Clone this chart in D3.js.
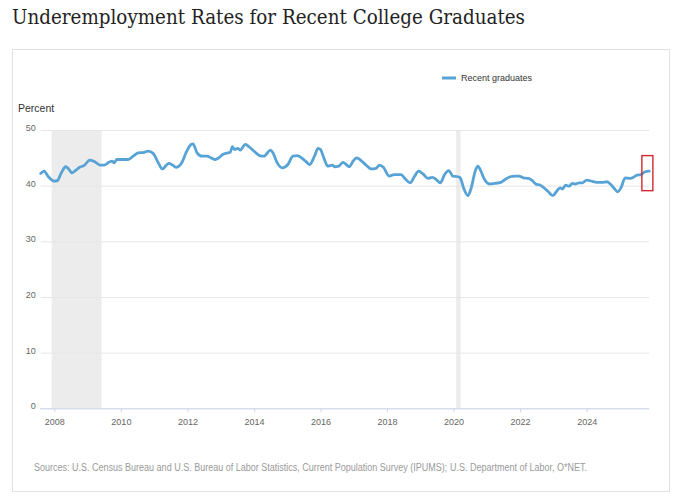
<!DOCTYPE html>
<html>
<head>
<meta charset="utf-8">
<script src="https://cdn.jsdelivr.net/npm/d3@7"></script>
<style>
  html, body { margin: 0; padding: 0; background: #ffffff; }
  svg { display: block; }
</style>
</head>
<body>
<svg id="chart" width="680" height="497"></svg>
<script>
// ---------- data ----------
const title = "Underemployment Rates for Recent College Graduates";
const seriesName = "Recent graduates";
const yAxisTitle = "Percent";
const sourceText = "Sources: U.S. Census Bureau and U.S. Bureau of Labor Statistics, Current Population Survey (IPUMS); U.S. Department of Labor, O*NET.";

// decimal years
const dates = [
  2007.59, 2007.69, 2007.81, 2008.00, 2008.09, 2008.21, 2008.34, 2008.43, 2008.53, 2008.63,
  2008.76, 2008.89, 2009.07, 2009.22, 2009.37, 2009.50, 2009.64, 2009.74, 2009.80, 2009.88,
  2010.22, 2010.37, 2010.52, 2010.70, 2010.82, 2010.97, 2011.10, 2011.25, 2011.37, 2011.45,
  2011.55, 2011.67, 2011.83, 2011.98, 2012.11, 2012.17, 2012.29, 2012.44, 2012.59, 2012.71,
  2012.84, 2012.94, 2013.06, 2013.22, 2013.29, 2013.35, 2013.42, 2013.51, 2013.59, 2013.74,
  2013.87, 2014.02, 2014.17, 2014.30, 2014.50, 2014.57, 2014.70, 2014.85, 2015.02, 2015.17,
  2015.30, 2015.45, 2015.55, 2015.67, 2015.82, 2015.93, 2016.00, 2016.10, 2016.22, 2016.36,
  2016.42, 2016.55, 2016.67, 2016.75, 2016.87, 2016.97, 2017.09, 2017.22, 2017.37, 2017.52,
  2017.67, 2017.77, 2017.89, 2018.07, 2018.22, 2018.42, 2018.55, 2018.69, 2018.83, 2018.95,
  2019.08, 2019.23, 2019.36, 2019.48, 2019.60, 2019.73, 2019.86, 2019.98, 2020.13, 2020.20,
  2020.30, 2020.43, 2020.53, 2020.65, 2020.73, 2020.80, 2020.93, 2021.08, 2021.23, 2021.42,
  2021.55, 2021.70, 2021.85, 2021.97, 2022.10, 2022.25, 2022.35, 2022.47, 2022.60, 2022.70,
  2022.85, 2022.98, 2023.10, 2023.20, 2023.27, 2023.37, 2023.47, 2023.57, 2023.65, 2023.77,
  2023.87, 2024.00, 2024.15, 2024.30, 2024.46, 2024.61, 2024.71, 2024.83, 2024.93, 2025.03,
  2025.16, 2025.31, 2025.41, 2025.51, 2025.63, 2025.76, 2025.88
];
const values = [
  42.2, 42.6, 41.7, 40.8, 40.9, 42.3, 43.4, 43.0, 42.3, 42.7,
  43.3, 43.6, 44.6, 44.3, 43.7, 43.7, 44.2, 44.4, 44.1, 44.7,
  44.7, 45.3, 45.9, 46.0, 46.2, 45.8, 44.4, 43.0, 43.7, 44.0,
  43.7, 43.3, 44.1, 46.2, 47.4, 47.5, 45.9, 45.3, 45.3, 45.0,
  44.7, 45.0, 45.6, 45.9, 46.0, 47.0, 46.5, 46.7, 46.4, 47.4,
  46.9, 46.1, 45.4, 45.3, 46.4, 45.9, 44.1, 43.2, 43.8, 45.3,
  45.4, 44.9, 44.4, 43.8, 45.3, 46.7, 46.5, 45.0, 43.5, 43.7,
  43.4, 43.5, 44.2, 43.9, 43.4, 44.3, 45.0, 44.5, 43.7, 43.0,
  43.1, 43.7, 43.3, 41.7, 42.0, 42.0, 41.2, 40.5, 41.7, 42.6,
  42.1, 41.3, 41.5, 41.1, 40.5, 42.0, 42.7, 41.7, 41.6, 41.4,
  39.6, 38.2, 39.6, 42.6, 43.5, 42.9, 41.1, 40.3, 40.4, 40.6,
  41.1, 41.6, 41.7, 41.7, 41.4, 41.3, 41.0, 40.3, 40.1, 39.7,
  38.9, 38.2, 39.0, 39.6, 39.4, 40.1, 39.9, 40.4, 40.3, 40.5,
  40.5, 41.0, 40.8, 40.6, 40.6, 40.7, 40.3, 39.5, 38.9, 39.6,
  41.4, 41.3, 41.5, 41.9, 42.0, 42.5, 42.6
];

const xTickValues = [2008, 2010, 2012, 2014, 2016, 2018, 2020, 2022, 2024];
const yTickValues = [0, 10, 20, 30, 40, 50];

// recession bands (decimal years)
const recessionStart = [2007.92, 2020.08];
const recessionEnd   = [2009.42, 2020.21];

// red highlight box around the latest reading
const highlightX = [2025.66, 2025.99];
const highlightY = [39.1, 45.4];

// ---------- drawing ----------
const svg = d3.select("#chart");
const SANS = "'Liberation Sans', Arial, Helvetica, sans-serif";

// panel frame
svg.append("rect")
  .attr("x", 12.5).attr("y", 49.5)
  .attr("width", 657).attr("height", 442)
  .attr("fill", "#ffffff")
  .attr("stroke", "#e2e2e2").attr("stroke-width", 1);

// title
svg.append("text")
  .attr("x", 12).attr("y", 23.5)
  .attr("fill", "#222222")
  .attr("textLength", 513)
  .attr("lengthAdjust", "spacingAndGlyphs")
  .style("font-family", "'DejaVu Serif', Georgia, serif")
  .style("font-size", "19.5px")
  .text(title);

const plot = { left: 40.7, right: 649.2, top: 130, bottom: 408.3 };

const x = d3.scaleLinear()
  .domain([dates[0], dates[dates.length - 1]])
  .range([plot.left, plot.right]);
const y = d3.scaleLinear()
  .domain([0, 50])
  .range([plot.bottom, plot.top]);

// recession shading
svg.append("g").selectAll("rect")
  .data(recessionStart.map((s, i) => [s, recessionEnd[i]]))
  .join("rect")
  .attr("x", d => x(d[0]))
  .attr("width", d => x(d[1]) - x(d[0]))
  .attr("y", y(50))
  .attr("height", y(0) - y(50))
  .attr("fill", "#ececec");

// y gridlines + labels
const yAxis = d3.axisLeft(y)
  .tickValues(yTickValues)
  .tickSize(-(plot.right - plot.left))
  .tickPadding(5)
  .tickFormat(d3.format("d"));
const gy = svg.append("g")
  .attr("transform", `translate(${plot.left},0)`)
  .call(yAxis);
gy.select(".domain").remove();
gy.selectAll(".tick line").attr("stroke", "#e6e6e6").attr("stroke-width", 1);
gy.selectAll(".tick text")
  .attr("fill", "#666666")
  .attr("dy", "0.05em")
  .style("font-family", SANS)
  .style("font-size", "9px");

// x axis
const xAxis = d3.axisBottom(x)
  .tickValues(xTickValues)
  .tickSize(4)
  .tickPadding(6)
  .tickFormat(d3.format("d"));
const gx = svg.append("g")
  .attr("transform", `translate(0,${plot.bottom})`)
  .call(xAxis);
gx.select(".domain").attr("stroke", "#ccd6eb").attr("stroke-width", 1)
  .attr("d", `M${plot.left - 0.7},0.5H${plot.right}`);
gx.selectAll(".tick line").attr("stroke", "#ccd6eb");
gx.selectAll(".tick text")
  .attr("fill", "#666666")
  .style("font-family", SANS)
  .style("font-size", "9px");

// y axis title
svg.append("text")
  .attr("x", 18).attr("y", 112)
  .attr("fill", "#333333")
  .style("font-family", SANS)
  .style("font-size", "10.5px")
  .text(yAxisTitle);

// series line
const data = dates.map((d, i) => ({ d, v: values[i] }));
const line = d3.line()
  .x(p => x(p.d))
  .y(p => y(p.v))
  .curve(d3.curveMonotoneX);
svg.append("path")
  .datum(data)
  .attr("fill", "none")
  .attr("stroke", "#58a3d5")
  .attr("stroke-width", 2.8)
  .attr("stroke-linejoin", "round")
  .attr("stroke-linecap", "round")
  .attr("d", line);

// legend
const lg = svg.append("g").attr("transform", "translate(442,78)");
lg.append("line")
  .attr("x1", 0).attr("x2", 14).attr("y1", 0).attr("y2", 0)
  .attr("stroke", "#58a3d5").attr("stroke-width", 3);
lg.append("text")
  .attr("x", 19).attr("y", 3.2)
  .attr("fill", "#333333")
  .style("font-family", SANS)
  .style("font-size", "9px")
  .text(seriesName);

// red highlight box
svg.append("rect")
  .attr("x", x(highlightX[0]))
  .attr("y", y(highlightY[1]))
  .attr("width", x(highlightX[1]) - x(highlightX[0]))
  .attr("height", y(highlightY[0]) - y(highlightY[1]))
  .attr("fill", "none")
  .attr("stroke", "#d3282e")
  .attr("stroke-width", 1.4);

// source note
svg.append("text")
  .attr("x", 34).attr("y", 471)
  .attr("fill", "#9a9a9a")
  .attr("textLength", 553)
  .attr("lengthAdjust", "spacingAndGlyphs")
  .style("font-family", SANS)
  .style("font-size", "10px")
  .text(sourceText);
</script>
</body>
</html>
